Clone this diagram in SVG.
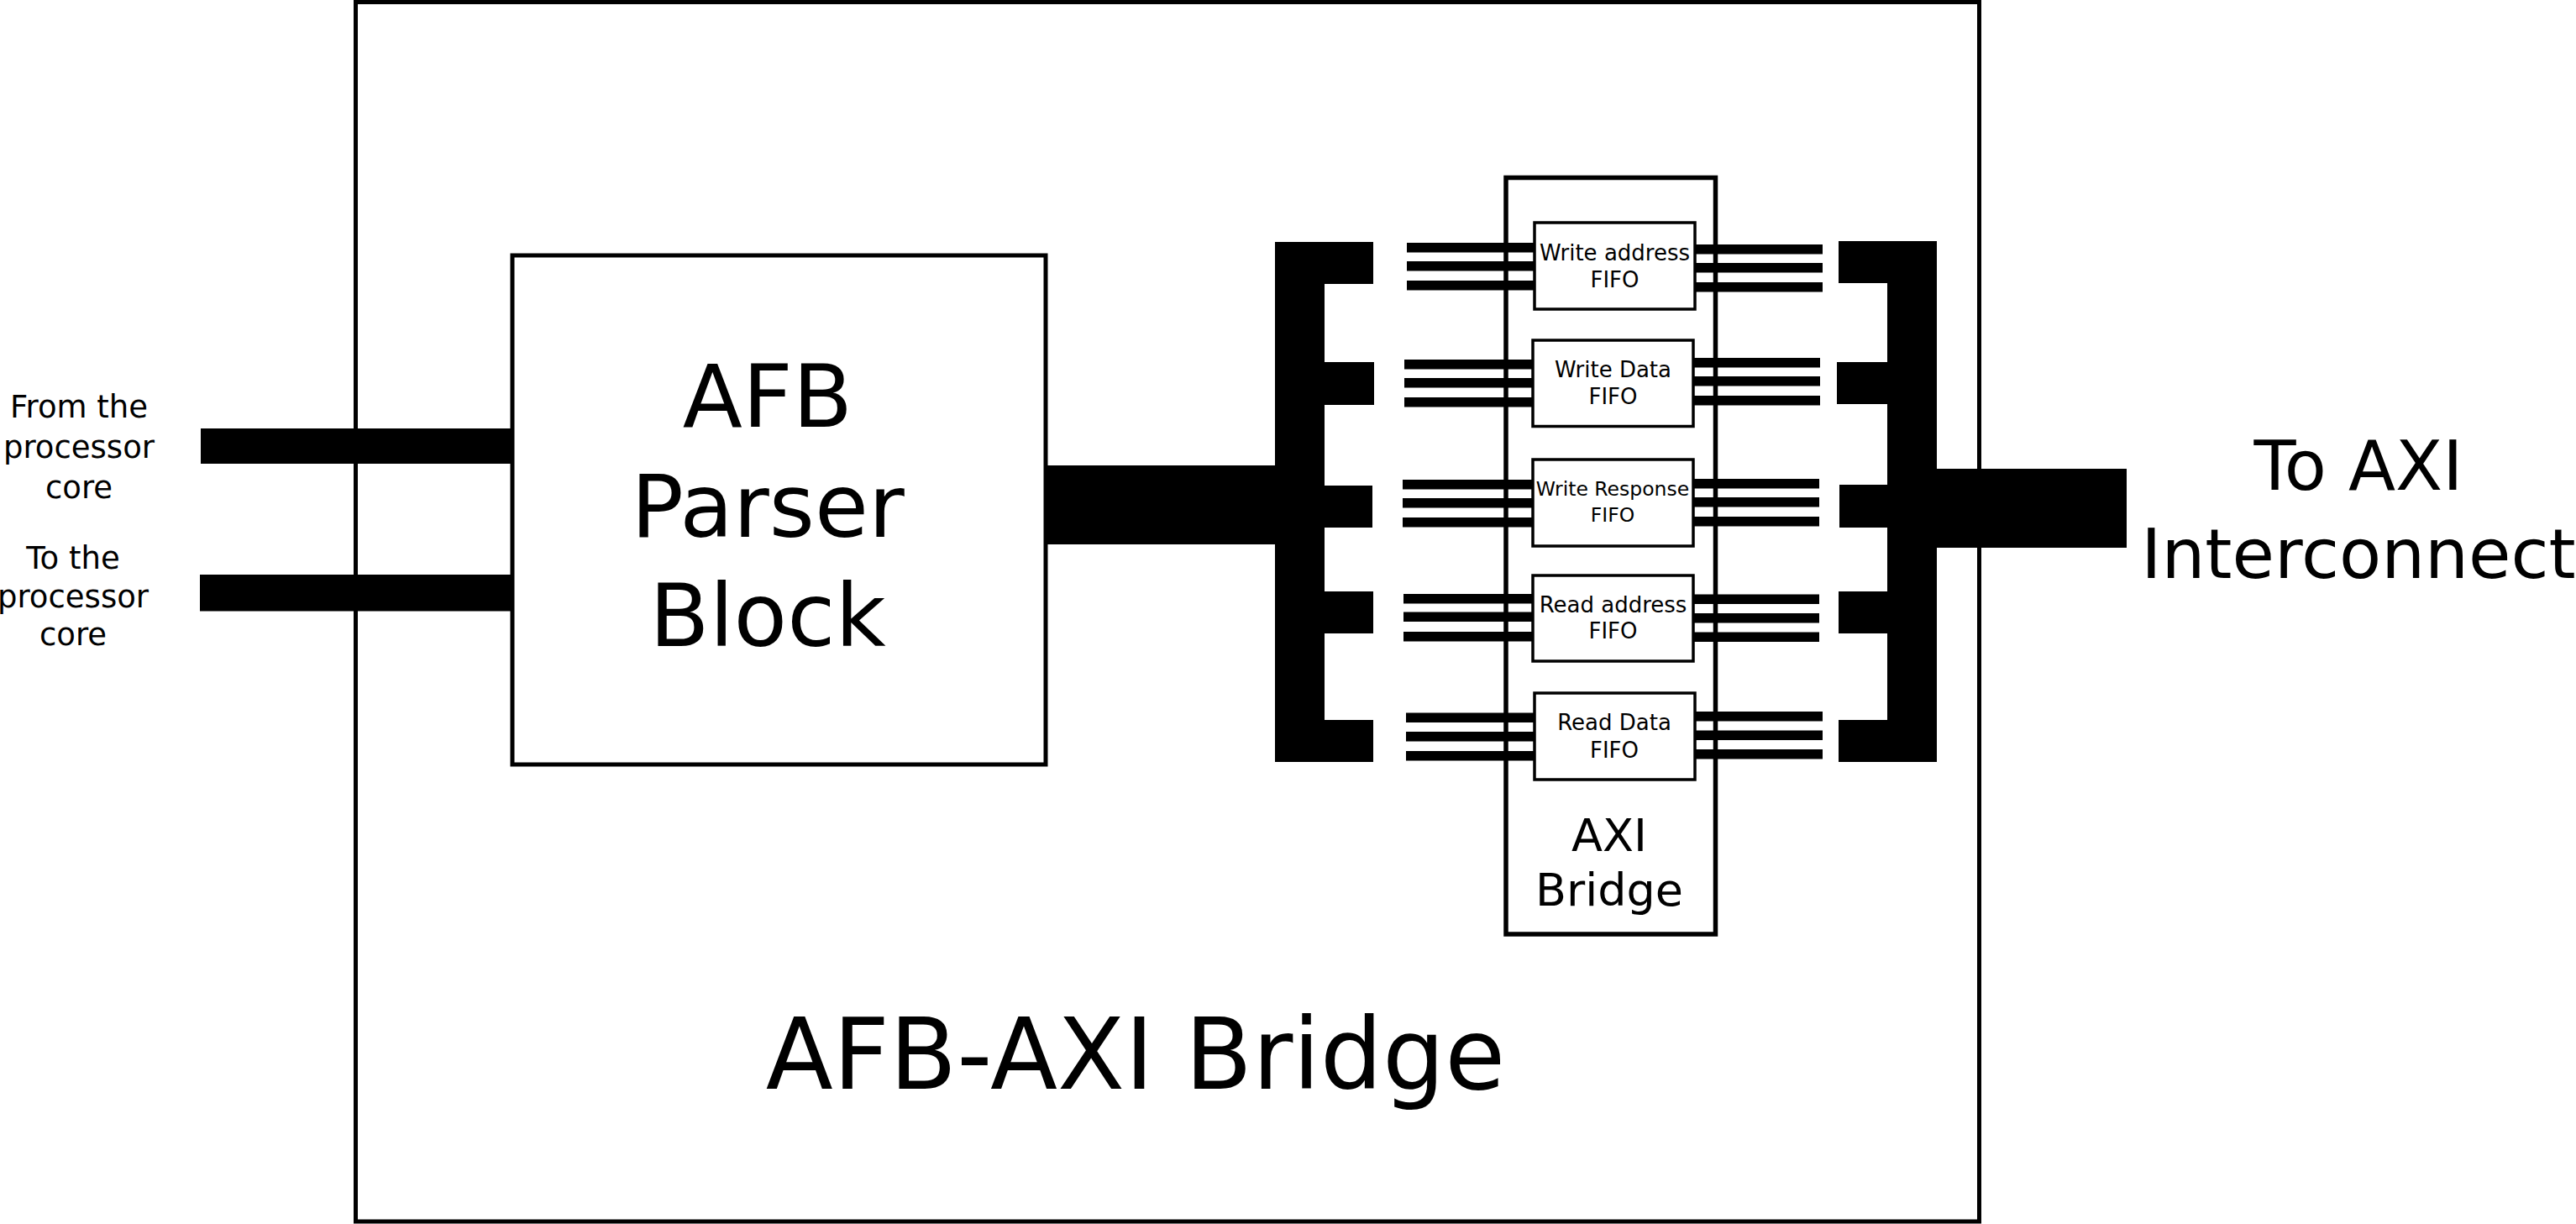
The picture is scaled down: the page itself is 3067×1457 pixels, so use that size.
<svg xmlns="http://www.w3.org/2000/svg" width="3067" height="1457" viewBox="0 0 3067 1457">
<style>
  .box { fill: #fff; stroke: #000; }
  .bus { fill: #000; stroke: none; }
  text { font-family: "DejaVu Sans", "Liberation Sans", sans-serif; fill: #000; text-anchor: middle; }
  .fifo-t { font-size: 26px; }
</style>
<rect x="0" y="0" width="3067" height="1457" fill="#fff"/>

<g id="afb-axi-bridge">
  <rect class="box" x="423.5" y="2.5" width="1933" height="1451.5" stroke-width="5"/>
  <text x="1352" y="1296" font-size="117">AFB-AXI Bridge</text>
</g>

<g id="connectors">
  <!-- processor buses -->
  <rect class="bus" x="239" y="510" width="373" height="42"/>
  <rect class="bus" x="238" y="684" width="374" height="43.5"/>
  <!-- parser to left comb -->
  <rect class="bus" x="1243" y="554" width="277" height="94"/>
  <!-- left comb -->
  <rect class="bus" x="1518" y="288" width="59" height="619"/>
  <rect class="bus" x="1518" y="288" width="117" height="50"/>
  <rect class="bus" x="1518" y="431" width="118" height="51"/>
  <rect class="bus" x="1518" y="578" width="116" height="50"/>
  <rect class="bus" x="1518" y="704" width="117" height="50"/>
  <rect class="bus" x="1518" y="857" width="117" height="50"/>
  <!-- right comb -->
  <rect class="bus" x="2247" y="287" width="59" height="620"/>
  <rect class="bus" x="2189" y="287" width="60" height="50"/>
  <rect class="bus" x="2187" y="431" width="62" height="50"/>
  <rect class="bus" x="2190" y="577" width="59" height="51"/>
  <rect class="bus" x="2189" y="704" width="60" height="50"/>
  <rect class="bus" x="2189" y="857" width="60" height="50"/>
  <!-- output bus -->
  <rect class="bus" x="2304" y="558" width="228" height="94"/>
  <!-- FIFO lanes: Write address -->
  <rect class="bus" x="1675" y="289" width="154" height="11.5"/>
  <rect class="bus" x="1675" y="311" width="154" height="11.5"/>
  <rect class="bus" x="1675" y="334" width="154" height="11.5"/>
  <rect class="bus" x="2016" y="291" width="154" height="11.5"/>
  <rect class="bus" x="2016" y="313" width="154" height="11.5"/>
  <rect class="bus" x="2016" y="336" width="154" height="11.5"/>
  <!-- Write Data -->
  <rect class="bus" x="1672" y="428" width="155" height="11.5"/>
  <rect class="bus" x="1672" y="450" width="155" height="11.5"/>
  <rect class="bus" x="1672" y="473" width="155" height="11.5"/>
  <rect class="bus" x="2014" y="426" width="153" height="11.5"/>
  <rect class="bus" x="2014" y="448" width="153" height="11.5"/>
  <rect class="bus" x="2014" y="471" width="153" height="11.5"/>
  <!-- Write Response -->
  <rect class="bus" x="1670" y="571" width="157" height="11.5"/>
  <rect class="bus" x="1670" y="593" width="157" height="11.5"/>
  <rect class="bus" x="1670" y="616" width="157" height="11.5"/>
  <rect class="bus" x="2014" y="570" width="152" height="11.5"/>
  <rect class="bus" x="2014" y="592" width="152" height="11.5"/>
  <rect class="bus" x="2014" y="615" width="152" height="11.5"/>
  <!-- Read address -->
  <rect class="bus" x="1671" y="707" width="156" height="11.5"/>
  <rect class="bus" x="1671" y="728.5" width="156" height="11.5"/>
  <rect class="bus" x="1671" y="752" width="156" height="11.5"/>
  <rect class="bus" x="2014" y="707.5" width="152" height="11.5"/>
  <rect class="bus" x="2014" y="730" width="152" height="11.5"/>
  <rect class="bus" x="2014" y="752.5" width="152" height="11.5"/>
  <!-- Read Data -->
  <rect class="bus" x="1674" y="848.5" width="155" height="11.5"/>
  <rect class="bus" x="1674" y="871" width="155" height="11.5"/>
  <rect class="bus" x="1674" y="894" width="155" height="11.5"/>
  <rect class="bus" x="2016" y="847" width="154" height="11.5"/>
  <rect class="bus" x="2016" y="869.5" width="154" height="11.5"/>
  <rect class="bus" x="2016" y="892" width="154" height="11.5"/>
</g>

<g id="axi-bridge">
  <rect x="1793" y="211.5" width="249.5" height="900.5" fill="none" stroke="#000" stroke-width="5.5"/>
  <text x="1916" y="1013" font-size="54">AXI</text>
  <text x="1916" y="1078" font-size="54">Bridge</text>
</g>

<g id="parser-block">
  <rect class="box" x="610" y="304" width="635" height="606" stroke-width="5"/>
  <text x="914" y="508" font-size="104">AFB</text>
  <text x="914" y="638.5" font-size="104">Parser</text>
  <text x="914" y="768.5" font-size="104">Block</text>
</g>

<g id="fifo-write-address">
  <rect class="box" x="1827" y="265" width="191" height="103" stroke-width="3.5"/>
  <text class="fifo-t" x="1922.5" y="309.5">Write address</text>
  <text class="fifo-t" x="1922.5" y="341.5">FIFO</text>
</g>
<g id="fifo-write-data">
  <rect class="box" x="1825" y="405" width="191" height="102.5" stroke-width="3.5"/>
  <text class="fifo-t" x="1920.5" y="448.5">Write Data</text>
  <text class="fifo-t" x="1920.5" y="481">FIFO</text>
</g>
<g id="fifo-write-response">
  <rect class="box" x="1825" y="547" width="191" height="103" stroke-width="3.5"/>
  <text x="1920" y="590" font-size="23.5">Write Response</text>
  <text x="1920" y="620.5" font-size="23.5">FIFO</text>
</g>
<g id="fifo-read-address">
  <rect class="box" x="1825" y="685" width="191" height="102" stroke-width="3.5"/>
  <text class="fifo-t" x="1920.5" y="728.5">Read address</text>
  <text class="fifo-t" x="1920.5" y="760">FIFO</text>
</g>
<g id="fifo-read-data">
  <rect class="box" x="1827" y="825" width="191" height="103" stroke-width="3.5"/>
  <text class="fifo-t" x="1922" y="869">Read Data</text>
  <text class="fifo-t" x="1922" y="901.5">FIFO</text>
</g>

<g id="label-from-core">
  <text x="94" y="497" font-size="37">From the</text>
  <text x="94" y="545" font-size="37">processor</text>
  <text x="94" y="593" font-size="37">core</text>
</g>
<g id="label-to-core">
  <text x="87" y="677" font-size="37">To the</text>
  <text x="87" y="722.5" font-size="37">processor</text>
  <text x="87" y="768" font-size="37">core</text>
</g>
<g id="label-axi-interconnect">
  <text x="2808" y="583" font-size="82">To AXI</text>
  <text x="2808" y="688" font-size="82">Interconnect</text>
</g>
</svg>
